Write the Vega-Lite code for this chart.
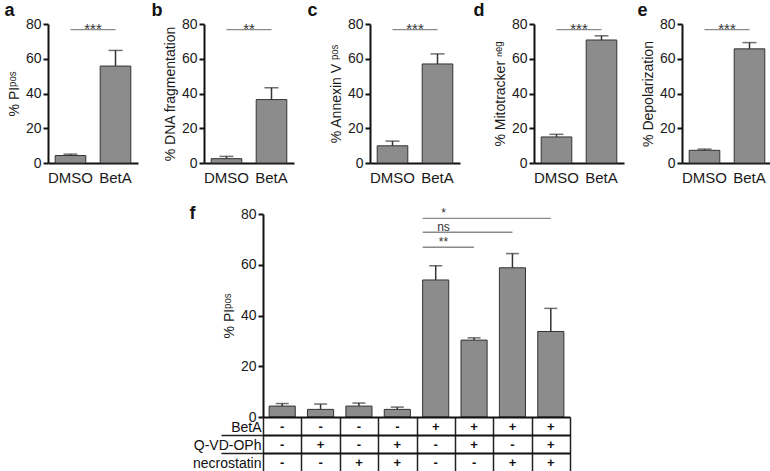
{
  "$schema": "https://vega.github.io/schema/vega-lite/v6.json",
  "padding": {"left": 4, "top": 2, "right": 0, "bottom": 0},
  "datasets": {
    "a": [{"group": "DMSO", "value": 4.3, "upper": 5.1}, {"group": "BetA", "value": 55.8, "upper": 64.8}],
    "b": [{"group": "DMSO", "value": 2.5, "upper": 3.8}, {"group": "BetA", "value": 36.5, "upper": 43.3}],
    "c": [{"group": "DMSO", "value": 9.9, "upper": 12.6}, {"group": "BetA", "value": 57.0, "upper": 62.8}],
    "d": [{"group": "DMSO", "value": 15.0, "upper": 16.5}, {"group": "BetA", "value": 70.8, "upper": 73.2}],
    "e": [{"group": "DMSO", "value": 7.3, "upper": 8.0}, {"group": "BetA", "value": 65.7, "upper": 69.3}],
    "f": [
      {"id": "1", "value": 4.3, "upper": 5.3},
      {"id": "2", "value": 3.0, "upper": 5.1},
      {"id": "3", "value": 4.3, "upper": 5.5},
      {"id": "4", "value": 3.0, "upper": 3.9},
      {"id": "5", "value": 54.0, "upper": 59.6},
      {"id": "6", "value": 30.3, "upper": 31.2},
      {"id": "7", "value": 58.8, "upper": 64.4},
      {"id": "8", "value": 33.7, "upper": 42.8}
    ],
    "fsig": [
      {"id": "5", "to": "8", "value": 78.3, "label": "*"},
      {"id": "5", "to": "7", "value": 72.8, "label": "ns"},
      {"id": "5", "to": "6", "value": 66.9, "label": "**"}
    ],
    "tbl": [
      {"id": "1", "row": "BetA", "sign": "-"}, {"id": "1", "row": "Q-VD-OPh", "sign": "-"}, {"id": "1", "row": "necrostatin", "sign": "-"},
      {"id": "2", "row": "BetA", "sign": "-"}, {"id": "2", "row": "Q-VD-OPh", "sign": "+"}, {"id": "2", "row": "necrostatin", "sign": "-"},
      {"id": "3", "row": "BetA", "sign": "-"}, {"id": "3", "row": "Q-VD-OPh", "sign": "-"}, {"id": "3", "row": "necrostatin", "sign": "+"},
      {"id": "4", "row": "BetA", "sign": "-"}, {"id": "4", "row": "Q-VD-OPh", "sign": "+"}, {"id": "4", "row": "necrostatin", "sign": "+"},
      {"id": "5", "row": "BetA", "sign": "+"}, {"id": "5", "row": "Q-VD-OPh", "sign": "-"}, {"id": "5", "row": "necrostatin", "sign": "-"},
      {"id": "6", "row": "BetA", "sign": "+"}, {"id": "6", "row": "Q-VD-OPh", "sign": "+"}, {"id": "6", "row": "necrostatin", "sign": "-"},
      {"id": "7", "row": "BetA", "sign": "+"}, {"id": "7", "row": "Q-VD-OPh", "sign": "-"}, {"id": "7", "row": "necrostatin", "sign": "+"},
      {"id": "8", "row": "BetA", "sign": "+"}, {"id": "8", "row": "Q-VD-OPh", "sign": "+"}, {"id": "8", "row": "necrostatin", "sign": "+"}
    ]
  },
  "config": {
    "font": "Liberation Sans",
    "view": {"stroke": null},
    "axis": {"domainColor": "#111111", "domainWidth": 2, "tickColor": "#111111", "tickWidth": 2, "tickSize": 5, "labelFontSize": 14, "labelColor": "#1a1a1a", "titleFontSize": 14, "titleColor": "#1a1a1a", "titleFontWeight": "normal", "labelPadding": 2, "titlePadding": 4, "grid": false},
    "axisX": {"ticks": false, "labelAngle": 0, "labelFontSize": 15, "labelPadding": 7},
    "title": {"fontSize": 18, "fontWeight": "bold", "anchor": "start", "frame": "bounds", "color": "#111111", "offset": -3}
  },
  "spacing": 20,
  "vconcat": [
    {
      "spacing": 13,
      "hconcat": [
        {
          "width": 90, "height": 139,
          "title": {"text": "a", "dx": -3},
          "encoding": {"x": {"field": "group", "type": "nominal", "scale": {"domain": ["DMSO", "BetA"], "paddingInner": 0.32, "paddingOuter": 0.16}, "axis": {"title": null}}},
          "layer": [
            {"data": {"name": "a"}, "mark": {"type": "bar", "fill": "#8c8c8c", "stroke": "#333333", "strokeWidth": 1}, "encoding": {"y": {"field": "value", "type": "quantitative", "scale": {"domain": [0, 80]}, "axis": {"values": [0, 20, 40, 60, 80]}, "title": "% PIᵖᵒˢ"}}},
            {"data": {"name": "a"}, "mark": {"type": "rule", "color": "#333333", "strokeWidth": 1.5}, "encoding": {"y": {"field": "value", "type": "quantitative", "axis": {"values": [0, 20, 40, 60, 80]}, "title": "% PIᵖᵒˢ"}, "y2": {"field": "upper"}}},
            {"data": {"name": "a"}, "mark": {"type": "tick", "color": "#333333", "thickness": 1.5, "size": 14}, "encoding": {"y": {"field": "upper", "type": "quantitative", "axis": {"values": [0, 20, 40, 60, 80]}, "title": "% PIᵖᵒˢ"}}},
            {"data": {"values": [{"group": "DMSO", "to": "BetA", "value": 76.8}]}, "mark": {"type": "rule", "color": "#8a8a8a", "strokeWidth": 1.3}, "encoding": {"x2": {"field": "to"}, "y": {"field": "value", "type": "quantitative", "axis": {"values": [0, 20, 40, 60, 80]}, "title": "% PIᵖᵒˢ"}}},
            {"data": {"values": [{"group": "BetA", "value": 76.8, "label": "***"}]}, "mark": {"type": "text", "fontSize": 15, "color": "#333333", "baseline": "alphabetic", "dy": 4}, "encoding": {"x": {"field": "group", "type": "nominal", "bandPosition": -0.235}, "y": {"field": "value", "type": "quantitative", "axis": {"values": [0, 20, 40, 60, 80]}, "title": "% PIᵖᵒˢ"}, "text": {"field": "label"}}}
          ]
        },
        {
          "width": 90, "height": 139,
          "title": {"text": "b", "dx": -12},
          "encoding": {"x": {"field": "group", "type": "nominal", "scale": {"domain": ["DMSO", "BetA"], "paddingInner": 0.32, "paddingOuter": 0.16}, "axis": {"title": null}}},
          "layer": [
            {"data": {"name": "b"}, "mark": {"type": "bar", "fill": "#8c8c8c", "stroke": "#333333", "strokeWidth": 1}, "encoding": {"y": {"field": "value", "type": "quantitative", "scale": {"domain": [0, 80]}, "axis": {"values": [0, 20, 40, 60, 80]}, "title": "% DNA fragmentation"}}},
            {"data": {"name": "b"}, "mark": {"type": "rule", "color": "#333333", "strokeWidth": 1.5}, "encoding": {"y": {"field": "value", "type": "quantitative", "axis": {"values": [0, 20, 40, 60, 80]}, "title": "% DNA fragmentation"}, "y2": {"field": "upper"}}},
            {"data": {"name": "b"}, "mark": {"type": "tick", "color": "#333333", "thickness": 1.5, "size": 14}, "encoding": {"y": {"field": "upper", "type": "quantitative", "axis": {"values": [0, 20, 40, 60, 80]}, "title": "% DNA fragmentation"}}},
            {"data": {"values": [{"group": "DMSO", "to": "BetA", "value": 76.8}]}, "mark": {"type": "rule", "color": "#8a8a8a", "strokeWidth": 1.3}, "encoding": {"x2": {"field": "to"}, "y": {"field": "value", "type": "quantitative", "axis": {"values": [0, 20, 40, 60, 80]}, "title": "% DNA fragmentation"}}},
            {"data": {"values": [{"group": "BetA", "value": 76.8, "label": "**"}]}, "mark": {"type": "text", "fontSize": 15, "color": "#333333", "baseline": "alphabetic", "dy": 4}, "encoding": {"x": {"field": "group", "type": "nominal", "bandPosition": -0.235}, "y": {"field": "value", "type": "quantitative", "axis": {"values": [0, 20, 40, 60, 80]}, "title": "% DNA fragmentation"}, "text": {"field": "label"}}}
          ]
        },
        {
          "width": 90, "height": 139,
          "title": {"text": "c", "dx": -22},
          "encoding": {"x": {"field": "group", "type": "nominal", "scale": {"domain": ["DMSO", "BetA"], "paddingInner": 0.32, "paddingOuter": 0.16}, "axis": {"title": null}}},
          "layer": [
            {"data": {"name": "c"}, "mark": {"type": "bar", "fill": "#8c8c8c", "stroke": "#333333", "strokeWidth": 1}, "encoding": {"y": {"field": "value", "type": "quantitative", "scale": {"domain": [0, 80]}, "axis": {"values": [0, 20, 40, 60, 80]}, "title": "% Annexin V ᵖᵒˢ"}}},
            {"data": {"name": "c"}, "mark": {"type": "rule", "color": "#333333", "strokeWidth": 1.5}, "encoding": {"y": {"field": "value", "type": "quantitative", "axis": {"values": [0, 20, 40, 60, 80]}, "title": "% Annexin V ᵖᵒˢ"}, "y2": {"field": "upper"}}},
            {"data": {"name": "c"}, "mark": {"type": "tick", "color": "#333333", "thickness": 1.5, "size": 14}, "encoding": {"y": {"field": "upper", "type": "quantitative", "axis": {"values": [0, 20, 40, 60, 80]}, "title": "% Annexin V ᵖᵒˢ"}}},
            {"data": {"values": [{"group": "DMSO", "to": "BetA", "value": 76.8}]}, "mark": {"type": "rule", "color": "#8a8a8a", "strokeWidth": 1.3}, "encoding": {"x2": {"field": "to"}, "y": {"field": "value", "type": "quantitative", "axis": {"values": [0, 20, 40, 60, 80]}, "title": "% Annexin V ᵖᵒˢ"}}},
            {"data": {"values": [{"group": "BetA", "value": 76.8, "label": "***"}]}, "mark": {"type": "text", "fontSize": 15, "color": "#333333", "baseline": "alphabetic", "dy": 4}, "encoding": {"x": {"field": "group", "type": "nominal", "bandPosition": -0.235}, "y": {"field": "value", "type": "quantitative", "axis": {"values": [0, 20, 40, 60, 80]}, "title": "% Annexin V ᵖᵒˢ"}, "text": {"field": "label"}}}
          ]
        },
        {
          "width": 90, "height": 139,
          "title": {"text": "d", "dx": -20},
          "encoding": {"x": {"field": "group", "type": "nominal", "scale": {"domain": ["DMSO", "BetA"], "paddingInner": 0.32, "paddingOuter": 0.16}, "axis": {"title": null}}},
          "layer": [
            {"data": {"name": "d"}, "mark": {"type": "bar", "fill": "#8c8c8c", "stroke": "#333333", "strokeWidth": 1}, "encoding": {"y": {"field": "value", "type": "quantitative", "scale": {"domain": [0, 80]}, "axis": {"values": [0, 20, 40, 60, 80]}, "title": "% Mitotracker ⁿᵉᵍ"}}},
            {"data": {"name": "d"}, "mark": {"type": "rule", "color": "#333333", "strokeWidth": 1.5}, "encoding": {"y": {"field": "value", "type": "quantitative", "axis": {"values": [0, 20, 40, 60, 80]}, "title": "% Mitotracker ⁿᵉᵍ"}, "y2": {"field": "upper"}}},
            {"data": {"name": "d"}, "mark": {"type": "tick", "color": "#333333", "thickness": 1.5, "size": 14}, "encoding": {"y": {"field": "upper", "type": "quantitative", "axis": {"values": [0, 20, 40, 60, 80]}, "title": "% Mitotracker ⁿᵉᵍ"}}},
            {"data": {"values": [{"group": "DMSO", "to": "BetA", "value": 76.8}]}, "mark": {"type": "rule", "color": "#8a8a8a", "strokeWidth": 1.3}, "encoding": {"x2": {"field": "to"}, "y": {"field": "value", "type": "quantitative", "axis": {"values": [0, 20, 40, 60, 80]}, "title": "% Mitotracker ⁿᵉᵍ"}}},
            {"data": {"values": [{"group": "BetA", "value": 76.8, "label": "***"}]}, "mark": {"type": "text", "fontSize": 15, "color": "#333333", "baseline": "alphabetic", "dy": 4}, "encoding": {"x": {"field": "group", "type": "nominal", "bandPosition": -0.235}, "y": {"field": "value", "type": "quantitative", "axis": {"values": [0, 20, 40, 60, 80]}, "title": "% Mitotracker ⁿᵉᵍ"}, "text": {"field": "label"}}}
          ]
        },
        {
          "width": 90, "height": 139,
          "title": {"text": "e", "dx": -4},
          "encoding": {"x": {"field": "group", "type": "nominal", "scale": {"domain": ["DMSO", "BetA"], "paddingInner": 0.32, "paddingOuter": 0.16}, "axis": {"title": null}}},
          "layer": [
            {"data": {"name": "e"}, "mark": {"type": "bar", "fill": "#8c8c8c", "stroke": "#333333", "strokeWidth": 1}, "encoding": {"y": {"field": "value", "type": "quantitative", "scale": {"domain": [0, 80]}, "axis": {"values": [0, 20, 40, 60, 80]}, "title": "% Depolarization"}}},
            {"data": {"name": "e"}, "mark": {"type": "rule", "color": "#333333", "strokeWidth": 1.5}, "encoding": {"y": {"field": "value", "type": "quantitative", "axis": {"values": [0, 20, 40, 60, 80]}, "title": "% Depolarization"}, "y2": {"field": "upper"}}},
            {"data": {"name": "e"}, "mark": {"type": "tick", "color": "#333333", "thickness": 1.5, "size": 14}, "encoding": {"y": {"field": "upper", "type": "quantitative", "axis": {"values": [0, 20, 40, 60, 80]}, "title": "% Depolarization"}}},
            {"data": {"values": [{"group": "DMSO", "to": "BetA", "value": 76.8}]}, "mark": {"type": "rule", "color": "#8a8a8a", "strokeWidth": 1.3}, "encoding": {"x2": {"field": "to"}, "y": {"field": "value", "type": "quantitative", "axis": {"values": [0, 20, 40, 60, 80]}, "title": "% Depolarization"}}},
            {"data": {"values": [{"group": "BetA", "value": 76.8, "label": "***"}]}, "mark": {"type": "text", "fontSize": 15, "color": "#333333", "baseline": "alphabetic", "dy": 4}, "encoding": {"x": {"field": "group", "type": "nominal", "bandPosition": -0.235}, "y": {"field": "value", "type": "quantitative", "axis": {"values": [0, 20, 40, 60, 80]}, "title": "% Depolarization"}, "text": {"field": "label"}}}
          ]
        }
      ]
    },
    {
      "spacing": 0,
      "hconcat": [
        {"width": 141, "height": 10, "data": {"values": [{"k": 1}]}, "mark": {"type": "point", "opacity": 0}, "encoding": {}},
        {
          "spacing": 0,
          "bounds": "flush",
          "vconcat": [
            {
              "width": 307, "height": 203,
              "title": {"text": "f", "offset": -16, "dx": -33},
              "encoding": {"x": {"field": "id", "type": "nominal", "scale": {"domain": ["1", "2", "3", "4", "5", "6", "7", "8"], "paddingInner": 0.32, "paddingOuter": 0.16}, "axis": null}},
              "layer": [
                {"data": {"name": "f"}, "mark": {"type": "bar", "fill": "#8c8c8c", "stroke": "#333333", "strokeWidth": 1}, "encoding": {"y": {"field": "value", "type": "quantitative", "scale": {"domain": [0, 80]}, "axis": {"values": [0, 20, 40, 60, 80]}, "title": "% PIᵖᵒˢ"}}},
                {"data": {"name": "f"}, "mark": {"type": "rule", "color": "#333333", "strokeWidth": 1.5}, "encoding": {"y": {"field": "value", "type": "quantitative", "axis": {"values": [0, 20, 40, 60, 80]}, "title": "% PIᵖᵒˢ"}, "y2": {"field": "upper"}}},
                {"data": {"name": "f"}, "mark": {"type": "tick", "color": "#333333", "thickness": 1.5, "size": 13}, "encoding": {"y": {"field": "upper", "type": "quantitative", "axis": {"values": [0, 20, 40, 60, 80]}, "title": "% PIᵖᵒˢ"}}},
                {"data": {"name": "fsig"}, "mark": {"type": "rule", "color": "#8a8a8a", "strokeWidth": 1.3}, "encoding": {"x": {"field": "id", "type": "nominal", "bandPosition": 0, "axis": null}, "x2": {"field": "to"}, "y": {"field": "value", "type": "quantitative", "axis": {"values": [0, 20, 40, 60, 80]}, "title": "% PIᵖᵒˢ"}}},
                {"data": {"name": "fsig"}, "mark": {"type": "text", "fontSize": 12, "color": "#333333", "baseline": "alphabetic", "dy": -1}, "encoding": {"x": {"field": "id", "type": "nominal", "bandPosition": 0.8, "axis": null}, "y": {"field": "value", "type": "quantitative", "axis": {"values": [0, 20, 40, 60, 80]}, "title": "% PIᵖᵒˢ"}, "text": {"field": "label"}}}
              ]
            },
            {
              "width": 307, "height": 54,
              "data": {"name": "tbl"},
              "mark": {"type": "text", "fontWeight": "bold", "fontSize": 13, "color": "#111111", "dy": 1},
              "encoding": {
                "x": {"field": "id", "type": "nominal", "scale": {"domain": ["1", "2", "3", "4", "5", "6", "7", "8"], "paddingInner": 0, "paddingOuter": 0}, "axis": {"title": null, "labels": false, "ticks": false, "domain": false, "grid": true, "tickBand": "extent", "gridColor": "#222222", "gridWidth": 1.5}},
                "y": {"field": "row", "type": "nominal", "scale": {"domain": ["BetA", "Q-VD-OPh", "necrostatin"], "paddingInner": 0, "paddingOuter": 0}, "axis": {"title": null, "domain": false, "grid": true, "tickBand": "extent", "ticks": true, "tickSize": 42, "tickWidth": 1.5, "tickColor": "#222222", "gridColor": "#111111", "gridWidth": 2, "labelPadding": -40, "labelOffset": 1, "labelFontSize": 14, "labelColor": "#111111", "gridOpacity": {"condition": {"test": "datum.value !== 'necrostatin'", "value": 1}, "value": 0}, "tickOpacity": {"condition": {"test": "datum.value === 'BetA' || datum.value === 'Q-VD-OPh'", "value": 1}, "value": 0}}},
                "text": {"field": "sign"}
              }
            }
          ]
        }
      ]
    }
  ]
}
